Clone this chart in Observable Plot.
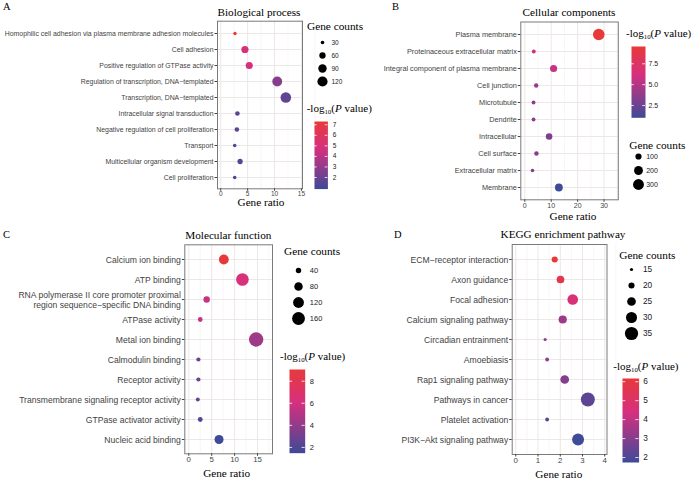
<!DOCTYPE html>
<html><head><meta charset="utf-8">
<script src="https://cdn.jsdelivr.net/npm/d3@7"></script>
<script src="https://cdn.jsdelivr.net/npm/@observablehq/plot@0.6"></script>
<style>
body{margin:0;background:#fff;}
#root{position:relative;width:700px;height:488px;overflow:hidden;background:#fff;}
.t{position:absolute;white-space:nowrap;line-height:0.9;color:#000;font-family:"Liberation Serif","Times New Roman",serif;}
.t sub{font-size:0.62em;line-height:0;vertical-align:-0.3em;}
svg{overflow:visible;}
</style></head><body><div id="root"></div>
<script>
// ---------------- DATA ----------------
// A: Biological process
const bpTerms = [
  "Homophilic cell adhesion via plasma membrane adhesion molecules",
  "Cell adhesion",
  "Positive regulation of GTPase activity",
  "Regulation of transcription, DNA\u2212templated",
  "Transcription, DNA\u2212templated",
  "Intracellular signal transduction",
  "Negative regulation of cell proliferation",
  "Transport",
  "Multicellular organism development",
  "Cell proliferation"
];
const bpRatio = [2.65, 4.5, 5.3, 10.5, 12.1, 3.1, 3.0, 2.6, 3.6, 2.6];
const bpCount = [28, 72, 70, 115, 128, 40, 39, 29, 47, 29];
const bpLogP  = [7.31, 4.9, 4.7, 2.7, 1.75, 1.6, 1.55, 1.2, 1.45, 0.9];
const bpXTicks = [0, 5, 10, 15];
const bpSizeBreaks = [30, 60, 90, 120];
const bpColorBreaks = [2, 3, 4, 5, 6, 7];

// B: Cellular components
const ccTerms = [
  "Plasma membrane",
  "Proteinaceous extracellular matrix",
  "Integral component of plasma membrane",
  "Cell junction",
  "Microtubule",
  "Dendrite",
  "Intracellular",
  "Cell surface",
  "Extracellular matrix",
  "Membrane"
];
const ccRatio = [28.0, 3.4, 10.9, 4.3, 3.3, 3.3, 9.2, 4.4, 2.9, 12.9];
const ccCount = [340, 41, 132, 52, 40, 40, 112, 53, 35, 157];
const ccLogP  = [9.57, 5.9, 5.6, 4.0, 3.7, 3.6, 3.2, 3.4, 3.6, 1.03];
const ccXTicks = [0, 10, 20, 30];
const ccSizeBreaks = [100, 200, 300];
const ccColorBreaks = [2.5, 5.0, 7.5];

// C: Molecular function
const mfTerms = [
  "Calcium ion binding",
  "ATP binding",
  "RNA polymerase II core promoter proximal\nregion sequence\u2212specific DNA binding",
  "ATPase activity",
  "Metal ion binding",
  "Calmodulin binding",
  "Receptor activity",
  "Transmembrane signaling receptor activity",
  "GTPase activator activity",
  "Nucleic acid binding"
];
const mfRatio = [7.65, 11.7, 3.9, 2.5, 14.7, 2.1, 2.1, 1.97, 2.5, 6.6];
const mfCount = [101, 155, 52, 33, 195, 28, 28, 26, 34, 88];
const mfLogP  = [9.06, 6.2, 5.65, 5.6, 4.36, 3.0, 2.85, 2.85, 2.1, 1.48];
const mfXTicks = [0, 5, 10, 15];
const mfSizeBreaks = [40, 80, 120, 160];
const mfColorBreaks = [2, 4, 6, 8];

// D: KEGG enrichment pathway
const keggTerms = [
  "ECM\u2212receptor interaction",
  "Axon guidance",
  "Focal adhesion",
  "Calcium signaling pathway",
  "Circadian entrainment",
  "Amoebiasis",
  "Rap1 signaling pathway",
  "Pathways in cancer",
  "Platelet activation",
  "PI3K\u2212Akt signaling pathway"
];
const keggRatio = [1.75, 2.01, 2.56, 2.11, 1.32, 1.41, 2.2, 3.24, 1.41, 2.8];
const keggCount = [20, 23, 29, 24, 15, 16, 25, 37, 16, 32];
const keggLogP  = [6.17, 5.64, 4.6, 3.4, 3.15, 3.07, 2.95, 2.27, 2.05, 1.74];
const keggXTicks = [0, 1, 2, 3, 4];
const keggSizeBreaks = [15, 20, 25, 30, 35];
const keggColorBreaks = [2, 3, 4, 5, 6];

// ---------------- STYLE / LAYOUT ----------------
const SANS = "'Liberation Sans', Arial, sans-serif";
const colorStops = ["#3f4a98", "#d6307f", "#e8393a"];
const root = document.getElementById("root");

function minorOf(ticks){ const s = ticks[1]-ticks[0]; return ticks.map(t => t + s/2); }

const panels = [
  { letter:"A", title:"Biological process", terms:bpTerms, ratio:bpRatio, count:bpCount, logp:bpLogP,
    xTicks:bpXTicks, sizeBreaks:bpSizeBreaks, colorBreaks:bpColorBreaks,
    L:{ frame:[217,302,20.7,188.3], xDomain:[-0.6,15.2], rRange:[1.7,5.3], yFont:6.9, xFont:6.5,
        letterXY:[3,10.5], titleXY:[259,15.5], xlabXY:[261,206], xfmt:d3.format("d"),
        size:{dotX:322, labelX:331, y0:41, y1:81, font:6.5, titleXY:[307,29.5]},
        bar:{x:314.3, y:120.7, w:13.4, h:67.6, labelX:332.5, font:6.5, fmt:d3.format("d"), titleXY:[306.7,113]} } },
  { letter:"B", title:"Cellular components", terms:ccTerms, ratio:ccRatio, count:ccCount, logp:ccLogP,
    xTicks:ccXTicks, sizeBreaks:ccSizeBreaks, colorBreaks:ccColorBreaks,
    L:{ frame:[520.3,617.8,21.5,199.3], xDomain:[-1.52,35.4], rRange:[1.8,5.8], yFont:7.3, xFont:7,
        letterXY:[392,10.5], titleXY:[569,15.5], xlabXY:[573,220], xfmt:d3.format("d"),
        size:{dotX:638.3, labelX:646, y0:156, y1:184.3, font:7, titleXY:[629.3,149]},
        bar:{x:631, y:46, w:14, h:71.3, labelX:648, font:7, fmt:d3.format(".1f"), titleXY:[626,37.5]} } },
  { letter:"C", title:"Molecular function", terms:mfTerms, ratio:mfRatio, count:mfCount, logp:mfLogP,
    xTicks:mfXTicks, sizeBreaks:mfSizeBreaks, colorBreaks:mfColorBreaks,
    L:{ frame:[184.3,272,244.3,453.3], xDomain:[-0.87,18.27], rRange:[2.0,7.2], yFont:8.6, xFont:7.8,
        letterXY:[3,238.5], titleXY:[228.3,238.5], xlabXY:[226.7,477], xfmt:d3.format("d"),
        size:{dotX:297.7, labelX:309, y0:269.3, y1:319.3, font:7.5, titleXY:[284,255]},
        bar:{x:289.3, y:369, w:15.7, h:83.7, labelX:309.5, font:7.5, fmt:d3.format("d"), titleXY:[280,361]} } },
  { letter:"D", title:"KEGG enrichment pathway", terms:keggTerms, ratio:keggRatio, count:keggCount, logp:keggLogP,
    xTicks:keggXTicks, sizeBreaks:keggSizeBreaks, colorBreaks:keggColorBreaks,
    L:{ frame:[511.7,606.5,244,454], xDomain:[-0.16,4.1], rRange:[1.6,7.0], yFont:8.6, xFont:7.8,
        letterXY:[394,238], titleXY:[563,237.5], xlabXY:[558.8,478], xfmt:d3.format("d"),
        size:{dotX:631, labelX:642.5, y0:268.3, y1:335, font:8.3, titleXY:[619.3,258.5]},
        bar:{x:621.7, y:377.7, w:16.6, h:84, labelX:642.5, font:8.3, fmt:d3.format("d"), titleXY:[613.3,371]} } }
];

function txt(html, x, base, size, anchor){
  const d = document.createElement("div");
  d.className = "t";
  d.innerHTML = html;
  d.style.fontSize = size + "px";
  d.style.left = x + "px";
  d.style.top = (base - 0.79*size) + "px";
  if (anchor === "middle") d.style.transform = "translateX(-50%)";
  root.appendChild(d);
}

function place(svg, left, top){
  svg.style.position = "absolute";
  svg.style.left = left + "px";
  svg.style.top = top + "px";
  svg.style.maxWidth = "none";
  svg.style.background = "transparent";
  root.appendChild(svg);
}

const LOGP_TITLE = "-log<sub>10</sub>(<i>P</i> value)";

for (const p of panels){
  const L = p.L;
  const lo = d3.min(p.logp), hi = d3.max(p.logp);
  const color = {type:"linear", domain:[lo, lo + 0.6*(hi-lo), hi], range:colorStops, interpolate:"rgb"};
  const r = {type:"sqrt", domain:d3.extent(p.count), range:L.rRange};
  const data = p.terms.map((t,i) => ({term:t, ratio:p.ratio[i], count:p.count[i], logp:p.logp[i]}));
  const [fl, fr, ft, fb] = L.frame;
  const W = Math.ceil(fr) + 4, H = Math.ceil(fb) + 16;

  const main = Plot.plot({
    width: W, height: H,
    marginLeft: fl, marginRight: W - fr, marginTop: ft, marginBottom: H - fb,
    style: {background:"transparent", overflow:"visible", fontFamily:SANS},
    x: {domain: L.xDomain},
    y: {type:"point", domain:p.terms, padding:0.6},
    r, color,
    marks: [
      Plot.ruleX(minorOf(p.xTicks), {stroke:"#f3eeee", strokeWidth:0.6}),
      Plot.ruleX(p.xTicks, {stroke:"#ebe4e4", strokeWidth:0.9}),
      Plot.ruleY(p.terms, {stroke:"#ebe4e4", strokeWidth:0.9}),
      Plot.dot(data, {x:"ratio", y:"term", r:"count", fill:"logp"}),
      Plot.frame({stroke:"#7a7a7a", strokeWidth:1}),
      Plot.axisX(p.xTicks, {tickSize:2.5, tickPadding:0.5, tickFormat:L.xfmt, fontSize:L.xFont, fill:"#444", stroke:"#444", label:null}),
      Plot.axisY({tickSize:2.5, tickPadding:1.5, fontSize:L.yFont, fill:"#3f3f3f", stroke:"#444", label:null, lineHeight:1.15})
    ]
  });
  place(main, 0, 0);

  // size legend
  const S = L.size, h = 4;
  const szW = 2*h + 30;
  const sizeLeg = Plot.plot({
    width: szW, height: S.y1 - S.y0,
    marginLeft:0, marginTop:0, marginBottom:0, marginRight:30,
    style:{background:"transparent", overflow:"visible", fontFamily:SANS},
    x:{axis:null},
    y:{type:"point", domain:p.sizeBreaks, padding:0},
    r,
    marks:[
      Plot.dot(p.sizeBreaks, {y:d=>d, r:d=>d, fill:"#000"}),
      Plot.axisY(p.sizeBreaks, {anchor:"right", tickSize:0, tickPadding:S.labelX - S.dotX - h, fontSize:S.font, fill:"#1a1a1a", label:null})
    ]
  });
  place(sizeLeg, S.dotX - h, S.y0);
  txt("Gene counts", S.titleXY[0], S.titleXY[1], 11.3);

  // colour bar
  const B = L.bar;
  const bar = Plot.plot({
    width: B.w + 30, height: B.h,
    marginLeft:0, marginTop:0, marginBottom:0, marginRight:30,
    style:{background:"transparent", overflow:"visible", fontFamily:SANS},
    x:{domain:[0,1], axis:null},
    y:{domain:[lo,hi]},
    color,
    marks:[
      Plot.raster({x1:0, x2:1, y1:lo, y2:hi, width:2, height:Math.round(B.h), fill:(x,y)=>y}),
      Plot.ruleY(p.colorBreaks, {x1:0, x2:0.2, stroke:"#fff", strokeWidth:0.8}),
      Plot.ruleY(p.colorBreaks, {x1:0.8, x2:1, stroke:"#fff", strokeWidth:0.8}),
      Plot.axisY(p.colorBreaks, {anchor:"right", tickSize:0, tickPadding:B.labelX - B.x - B.w, tickFormat:B.fmt, fontSize:B.font, fill:"#1a1a1a", label:null})
    ]
  });
  place(bar, B.x, B.y);
  txt(LOGP_TITLE, B.titleXY[0], B.titleXY[1], 11);

  // texts
  txt(p.letter, L.letterXY[0], L.letterXY[1], 10.5);
  txt(p.title, L.titleXY[0], L.titleXY[1], 11.2, "middle");
  txt("Gene ratio", L.xlabXY[0], L.xlabXY[1], 11.2, "middle");
}
</script></body></html>
